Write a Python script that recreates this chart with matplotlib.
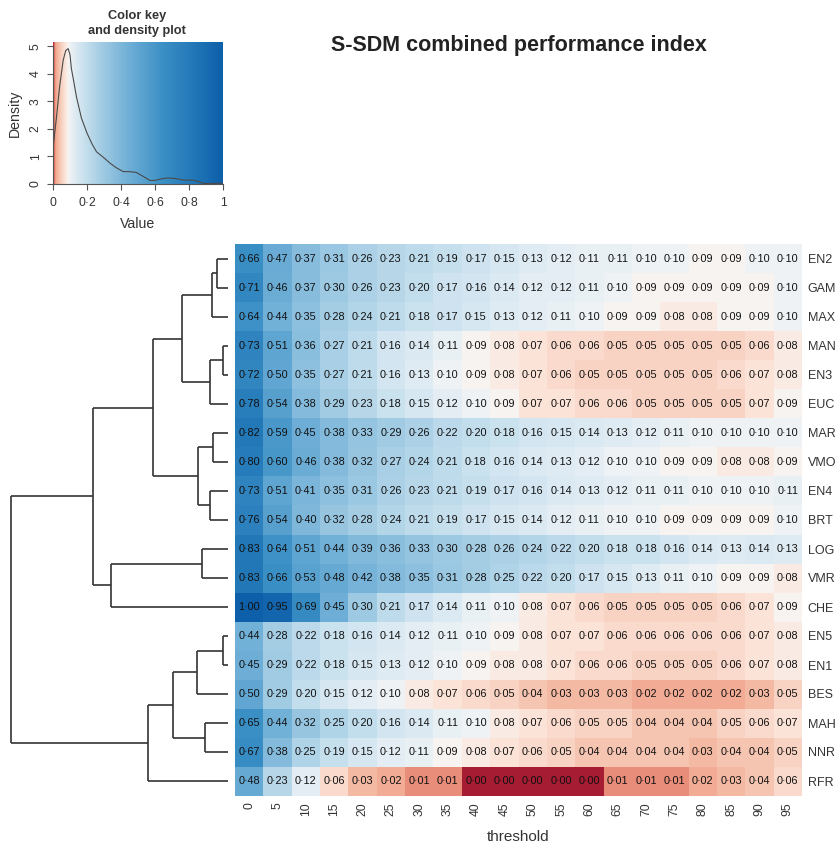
import numpy as np
import matplotlib
matplotlib.use("Agg")
import matplotlib.pyplot as plt
from matplotlib.colors import LinearSegmentedColormap, Normalize

plt.rcParams['font.family'] = ['Liberation Sans', 'DejaVu Sans']

# ---------------- data ----------------
thresholds = [0, 5, 10, 15, 20, 25, 30, 35, 40, 45, 50, 55, 60, 65, 70, 75, 80, 85, 90, 95]
models = ["EN2", "GAM", "MAX", "MAN", "EN3", "EUC", "MAR", "VMO", "EN4", "BRT",
          "LOG", "VMR", "CHE", "EN5", "EN1", "BES", "MAH", "NNR", "RFR"]

EN2 = [0.66, 0.47, 0.37, 0.31, 0.26, 0.23, 0.21, 0.19, 0.17, 0.15, 0.13, 0.12, 0.11, 0.11, 0.10, 0.10, 0.09, 0.09, 0.10, 0.10]
GAM = [0.71, 0.46, 0.37, 0.30, 0.26, 0.23, 0.20, 0.17, 0.16, 0.14, 0.12, 0.12, 0.11, 0.10, 0.09, 0.09, 0.09, 0.09, 0.09, 0.10]
MAX = [0.64, 0.44, 0.35, 0.28, 0.24, 0.21, 0.18, 0.17, 0.15, 0.13, 0.12, 0.11, 0.10, 0.09, 0.09, 0.08, 0.08, 0.09, 0.09, 0.10]
MAN = [0.73, 0.51, 0.36, 0.27, 0.21, 0.16, 0.14, 0.11, 0.09, 0.08, 0.07, 0.06, 0.06, 0.05, 0.05, 0.05, 0.05, 0.05, 0.06, 0.08]
EN3 = [0.72, 0.50, 0.35, 0.27, 0.21, 0.16, 0.13, 0.10, 0.09, 0.08, 0.07, 0.06, 0.05, 0.05, 0.05, 0.05, 0.05, 0.06, 0.07, 0.08]
EUC = [0.78, 0.54, 0.38, 0.29, 0.23, 0.18, 0.15, 0.12, 0.10, 0.09, 0.07, 0.07, 0.06, 0.06, 0.05, 0.05, 0.05, 0.05, 0.07, 0.09]
MAR = [0.82, 0.59, 0.45, 0.38, 0.33, 0.29, 0.26, 0.22, 0.20, 0.18, 0.16, 0.15, 0.14, 0.13, 0.12, 0.11, 0.10, 0.10, 0.10, 0.10]
VMO = [0.80, 0.60, 0.46, 0.38, 0.32, 0.27, 0.24, 0.21, 0.18, 0.16, 0.14, 0.13, 0.12, 0.10, 0.10, 0.09, 0.09, 0.08, 0.08, 0.09]
EN4 = [0.73, 0.51, 0.41, 0.35, 0.31, 0.26, 0.23, 0.21, 0.19, 0.17, 0.16, 0.14, 0.13, 0.12, 0.11, 0.11, 0.10, 0.10, 0.10, 0.11]
BRT = [0.76, 0.54, 0.40, 0.32, 0.28, 0.24, 0.21, 0.19, 0.17, 0.15, 0.14, 0.12, 0.11, 0.10, 0.10, 0.09, 0.09, 0.09, 0.09, 0.10]
LOG = [0.83, 0.64, 0.51, 0.44, 0.39, 0.36, 0.33, 0.30, 0.28, 0.26, 0.24, 0.22, 0.20, 0.18, 0.18, 0.16, 0.14, 0.13, 0.14, 0.13]
VMR = [0.83, 0.66, 0.53, 0.48, 0.42, 0.38, 0.35, 0.31, 0.28, 0.25, 0.22, 0.20, 0.17, 0.15, 0.13, 0.11, 0.10, 0.09, 0.09, 0.08]
CHE = [1.00, 0.95, 0.69, 0.45, 0.30, 0.21, 0.17, 0.14, 0.11, 0.10, 0.08, 0.07, 0.06, 0.05, 0.05, 0.05, 0.05, 0.06, 0.07, 0.09]
EN5 = [0.44, 0.28, 0.22, 0.18, 0.16, 0.14, 0.12, 0.11, 0.10, 0.09, 0.08, 0.07, 0.07, 0.06, 0.06, 0.06, 0.06, 0.06, 0.07, 0.08]
EN1 = [0.45, 0.29, 0.22, 0.18, 0.15, 0.13, 0.12, 0.10, 0.09, 0.08, 0.08, 0.07, 0.06, 0.06, 0.05, 0.05, 0.05, 0.06, 0.07, 0.08]
BES = [0.50, 0.29, 0.20, 0.15, 0.12, 0.10, 0.08, 0.07, 0.06, 0.05, 0.04, 0.03, 0.03, 0.03, 0.02, 0.02, 0.02, 0.02, 0.03, 0.05]
MAH = [0.65, 0.44, 0.32, 0.25, 0.20, 0.16, 0.14, 0.11, 0.10, 0.08, 0.07, 0.06, 0.05, 0.05, 0.04, 0.04, 0.04, 0.05, 0.06, 0.07]
NNR = [0.67, 0.38, 0.25, 0.19, 0.15, 0.12, 0.11, 0.09, 0.08, 0.07, 0.06, 0.05, 0.04, 0.04, 0.04, 0.04, 0.03, 0.04, 0.04, 0.05]
RFR = [0.48, 0.23, 0.12, 0.06, 0.03, 0.02, 0.01, 0.01, 0.00, 0.00, 0.00, 0.00, 0.00, 0.01, 0.01, 0.01, 0.02, 0.03, 0.04, 0.06]

# dendrogram merges: (child_a, child_b, height); leaves 0..18, clusters 19..
merges = [
    (0, 1, 0.051), (19, 2, 0.074), (3, 4, 0.023), (21, 5, 0.083), (20, 22, 0.212),
    (6, 7, 0.069), (8, 9, 0.083), (24, 25, 0.138), (23, 26, 0.346),
    (10, 11, 0.120), (28, 12, 0.539), (27, 29, 0.622),
    (13, 14, 0.023), (31, 15, 0.143), (16, 17, 0.106), (32, 33, 0.253), (34, 18, 0.369),
    (30, 35, 1.0),
]

# density curve
density_x = [0.0, 0.02, 0.04, 0.06, 0.075, 0.089, 0.10, 0.108, 0.12, 0.138, 0.167, 0.20, 0.23, 0.256,
             0.30, 0.335, 0.37, 0.413, 0.45, 0.49, 0.53, 0.57, 0.60, 0.64, 0.67, 0.72, 0.77, 0.827,
             0.86, 0.886, 0.92, 1.0]
density_y = [1.30, 2.40, 3.60, 4.50, 4.85, 4.92, 4.70, 4.20, 3.80, 3.17, 2.40, 1.85, 1.45, 1.17,
             0.95, 0.76, 0.60, 0.45, 0.45, 0.42, 0.28, 0.13, 0.13, 0.19, 0.22, 0.20, 0.14, 0.14,
             0.08, 0.02, 0.02, 0.03]

data = np.array([EN2, GAM, MAX, MAN, EN3, EUC, MAR, VMO, EN4, BRT,
                 LOG, VMR, CHE, EN5, EN1, BES, MAH, NNR, RFR])

# ---------------- style ----------------
W, H = 838, 844
fig = plt.figure(figsize=(W / 100, H / 100), dpi=100)

def px_axes(x0, y0, x1, y1):
    return fig.add_axes([x0 / W, 1 - y1 / H, (x1 - x0) / W, (y1 - y0) / H])

cmap = LinearSegmentedColormap.from_list("key", [
    (0.0, "#a51c33"), (0.005, "#c8404a"), (0.01, "#ea917c"), (0.02, "#f2ad96"),
    (0.03, "#f4b9a2"), (0.05, "#f8d2c2"), (0.07, "#fbe3d8"), (0.09, "#f7f3f1"),
    (0.10, "#eef2f5"), (0.12, "#e3edf3"), (0.15, "#d6e7f1"), (0.2, "#c2ddec"),
    (0.3, "#9dc9e2"), (0.45, "#6eaed6"), (0.65, "#3a8fc5"), (0.85, "#1f74b6"),
    (1.0, "#0d5fa9")], N=4096)
norm = Normalize(0, 1)
dark = "#333333"

# ---------------- heatmap ----------------
hx0, hx1, hy0, hy1 = 235, 802, 244.5, 795.5
axh = px_axes(hx0, hy0, hx1, hy1)
nr, nc = data.shape
axh.pcolormesh(np.arange(nc + 1), np.arange(nr + 1), data, cmap=cmap, norm=norm,
               shading="flat", edgecolors="face", linewidth=0)
axh.set_xlim(0, nc)
axh.set_ylim(nr, 0)
for i in range(nr):
    for j in range(nc):
        axh.text(j + 0.5, i + 0.5, f"{data[i, j]:.2f}".replace(".", "\u00b7"),
                 ha="center", va="center", fontsize=7.8, color="#111111")
for s in axh.spines.values():
    s.set_visible(False)
axh.set_xticks(np.arange(nc) + 0.5)
axh.set_xticklabels([str(t) for t in thresholds], rotation=90, fontsize=8.7, color=dark)
axh.tick_params(axis="x", length=0, pad=5)
axh.yaxis.tick_right()
axh.set_yticks(np.arange(nr) + 0.5)
axh.set_yticklabels(models, fontsize=9, color=dark)
axh.tick_params(axis="y", length=0, pad=4)
axh.set_xlabel("threshold", fontsize=11, color=dark, labelpad=10)

# ---------------- dendrogram ----------------
axd = px_axes(0, hy0, hx0, hy1)
pos = {i: i + 0.5 for i in range(nr)}
hgt = {i: 0.0 for i in range(nr)}
for k, (a, b, h) in enumerate(merges):
    node = nr + k
    for c in (a, b):
        axd.plot([hgt[c], h], [pos[c], pos[c]], color="#333333", lw=1.2, solid_capstyle="butt")
    axd.plot([h, h], [pos[a], pos[b]], color="#333333", lw=1.2, solid_capstyle="butt")
    pos[node] = (pos[a] + pos[b]) / 2
    hgt[node] = h
axd.set_ylim(nr, 0)
axd.set_xlim(228 / 217, -7 / 217)
axd.axis("off")

# ---------------- colour key ----------------
ymax = 5.16
axk = px_axes(53, 42, 223, 184)
grad = np.linspace(0, 1, 1024).reshape(1, -1)
axk.imshow(grad, extent=(0, 1, 0, ymax), aspect="auto", cmap=cmap, norm=norm,
           interpolation="bilinear")
axk.plot(density_x, density_y, color="#4a4a4a", lw=0.8)
axk.set_xlim(0, 1)
axk.set_ylim(0, ymax)
for s in ("top", "right"):
    axk.spines[s].set_visible(False)
axk.spines["left"].set_bounds(0, 5)
axk.spines["left"].set_color("#555555")
axk.spines["bottom"].set_color("#555555")
axk.set_xticks([0, 0.2, 0.4, 0.6, 0.8, 1])
axk.set_xticklabels(["0", "0\u00b72", "0\u00b74", "0\u00b76", "0\u00b78", "1"], fontsize=8.7, color=dark)
axk.set_yticks([0, 1, 2, 3, 4, 5])
axk.set_yticklabels(["0", "1", "2", "3", "4", "5"], fontsize=8.7, color=dark, rotation=90, va="center")
axk.tick_params(length=4, color="#555555")
axk.tick_params(axis="x", pad=5)
axk.tick_params(axis="y", pad=4)
axk.set_xlabel("Value", fontsize=10.2, color=dark, labelpad=6)
axk.set_ylabel("Density", fontsize=10.2, color=dark, labelpad=6)

fig.text(137 / W, 1 - 23.5 / H, "Color key\nand density plot", ha="center", va="center",
         fontsize=9.2, fontweight="bold", color=dark, linespacing=1.3)
fig.text(519 / W, 1 - 45 / H, "S-SDM combined performance index", ha="center", va="center",
         fontsize=15.5, fontweight="bold", color="#222222")

fig.savefig("out.png", dpi=100)
